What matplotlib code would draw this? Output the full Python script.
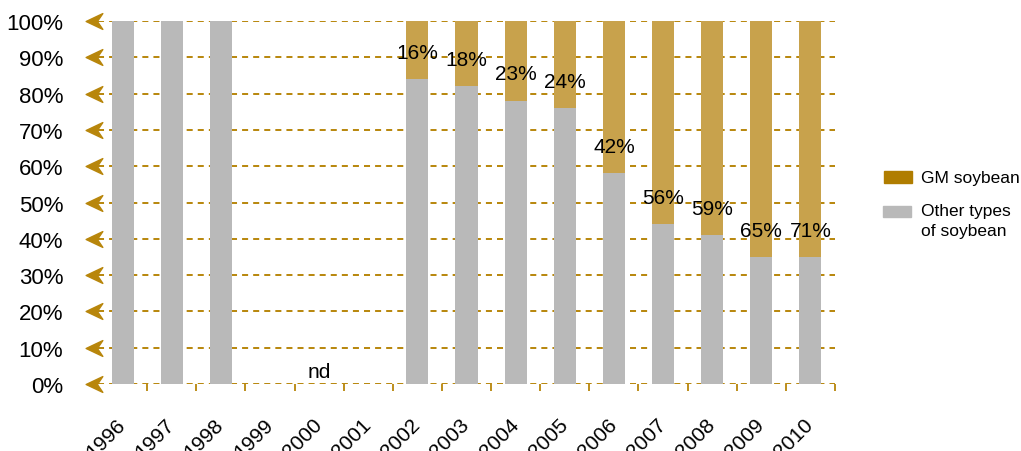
import matplotlib
matplotlib.use("Agg")
import matplotlib.pyplot as plt
import matplotlib.patches as mpatches
from matplotlib.path import Path
import numpy as np

# ── Data ──────────────────────────────────────────────────────────────────────
years = ["1996", "1997", "1998", "1999", "2000", "2001", "2002", "2003",
         "2004", "2005", "2006", "2007", "2008", "2009", "2010"]
# share of other (non-GM) soybean as drawn, nan = no data
other_share = [100, 100, 100, np.nan, np.nan, np.nan,
               84, 82, 78, 76, 58, 44, 41, 35, 35]
# GM share as printed on the bars
gm_labels = [None, None, None, None, None, None,
             16, 18, 23, 24, 42, 56, 59, 65, 71]
yticks = [0, 10, 20, 30, 40, 50, 60, 70, 80, 90, 100]
legend_labels = ["GM soybean", "Other types\nof soybean"]

GM_COLOR = "#c8a24c"
GM_LEGEND = "#b07d00"
OTHER_COLOR = "#b9b9b9"
GRID_COLOR = "#b8860b"

plt.rcParams["font.family"] = ["Liberation Sans", "DejaVu Sans"]

other = np.array(other_share, dtype=float)
gm = 100 - other
x = np.arange(len(years))

W, H = 1021, 452
fig = plt.figure(figsize=(W / 100, H / 100), dpi=100)
ax = fig.add_axes([98 / W, 1 - 385 / H, (835 - 98) / W, (385 - 22) / H])

# dashed gridlines with arrowheads on the left
arrow = Path([(-1, 0), (1, 0.95), (0.35, 0), (1, -0.95), (-1, 0)],
             [Path.MOVETO, Path.LINETO, Path.LINETO, Path.LINETO, Path.CLOSEPOLY])
for yv in yticks:
    ax.axhline(yv, color=GRID_COLOR, lw=1.4, ls=(0, (3.1, 2.6)), zorder=0)
    ax.plot([-0.58], [yv], marker=arrow, ms=12, color=GRID_COLOR,
            clip_on=False, zorder=3)

ax.bar(x, other, 0.45, color=OTHER_COLOR, zorder=2)
ax.bar(x, gm, 0.45, bottom=other, color=GM_COLOR, zorder=2)

for xi, o, lab in zip(x, other, gm_labels):
    if lab is None:
        continue
    ax.text(xi, o + 7.4, f"{lab}%", ha="center", va="center", fontsize=15,
            zorder=4)

ax.text(x[years.index("2000")], 3.5, "nd", ha="center", va="center",
        fontsize=15)

ax.set_xlim(-0.5, len(years) - 0.5)
ax.set_ylim(0, 100)
ax.set_yticks(yticks)
ax.set_yticklabels([f"{v}%" for v in yticks], fontsize=16)
ax.tick_params(axis="y", length=0, pad=25)

ax.set_xticks(x)
ax.set_xticklabels(years, rotation=45, ha="right", va="center",
                   rotation_mode="anchor", fontsize=15)
ax.set_xticks(x + 0.5, minor=True)
ax.tick_params(axis="x", which="major", length=0, pad=27)
ax.tick_params(axis="x", which="minor", length=5, width=1.3,
               color=GRID_COLOR, direction="out")

for s in ax.spines.values():
    s.set_visible(False)

# legend, laid out by hand
fig.patches.append(mpatches.Rectangle((884 / W, 1 - 184 / H), 28 / W, 12 / H,
                                      transform=fig.transFigure,
                                      color=GM_LEGEND))
fig.text(921 / W, 1 - 179 / H, legend_labels[0], fontsize=12.5,
         ha="left", va="center")
fig.patches.append(mpatches.Rectangle((883 / W, 1 - 218 / H), 28 / W, 11 / H,
                                      transform=fig.transFigure,
                                      color=OTHER_COLOR))
fig.text(921 / W, 1 - 204 / H, legend_labels[1], fontsize=12.5,
         ha="left", va="top", linespacing=1.45)

fig.savefig("out.png", dpi=100)
